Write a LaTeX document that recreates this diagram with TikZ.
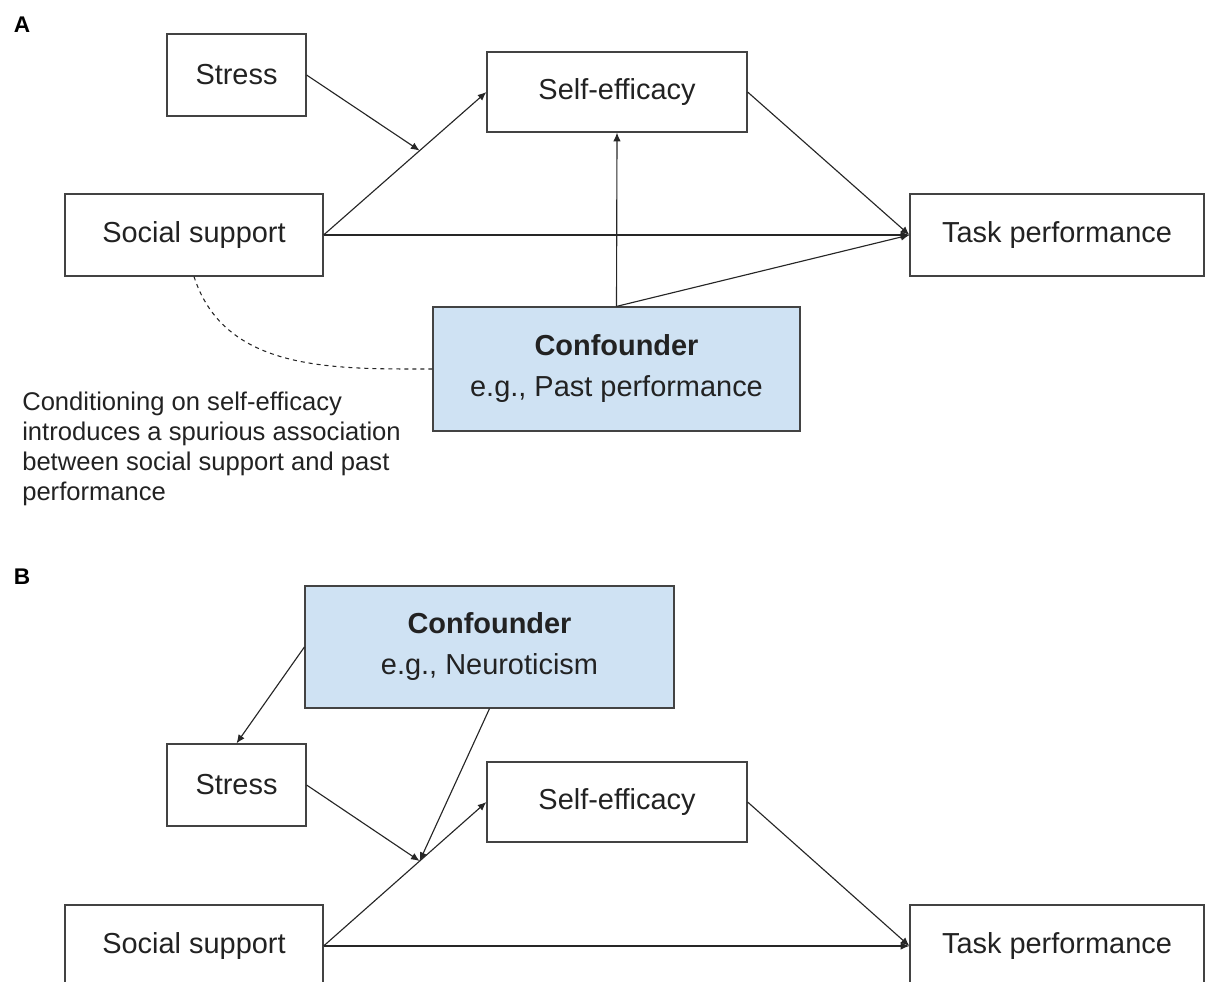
\documentclass[tikz,border=0pt]{standalone}
\usepackage{fontspec}
\setmainfont{Liberation Sans}
\usepackage{tikz}
\usetikzlibrary{arrows, arrows.meta, positioning}
\definecolor{boxline}{HTML}{434343}
\definecolor{cfblue}{HTML}{CFE2F3}
\definecolor{txt}{HTML}{222222}
\tikzstyle{var} = [rectangle, minimum height=61.5pt, inner sep=0pt, text centered, draw=boxline, line width=0.9pt, text=txt, font=\fontsize{21.7}{26}\selectfont]
\tikzstyle{confounder} = [rectangle, inner sep=0pt, align=center, draw=boxline, line width=0.9pt, fill=cfblue, text=txt, font=\fontsize{21.7}{30.75}\selectfont]
\tikzstyle{arrow} = [line width=0.85pt, draw=black!85, -{Latex[length=6.5pt, width=5.5pt]}]
\tikzstyle{panel} = [font=\bfseries\fontsize{17}{20}\selectfont, text=black]

\begin{document}
\begin{tikzpicture}[x=0.75pt, y=-0.75pt]
\useasboundingbox (0,0) rectangle (1209,981);
\clip (0,0) rectangle (1209,981);

% Panel A
\node (labA) [panel] at (22,25) {A};

\node (stA) [var, minimum width=104.25pt] at (236.5,75) {Stress};
\node (seA) [var, minimum width=195pt, minimum height=60pt] at (617,92) {Self-efficacy};
\node (ssA) [var, minimum width=193.5pt] at (194,235) {Social support};
\node (tpA) [var, minimum width=220.5pt] at (1057,235) {Task performance};
\node (cfA) [confounder, minimum width=275.25pt, minimum height=93pt] at (616.5,369) {\textbf{Confounder}\\e.g., Past performance};

\node (noteA) [anchor=north west, inner sep=0pt, align=left, text=txt, font=\fontsize{19.2}{22.5}\selectfont] at (22,392)
  {Conditioning on self-efficacy\\introduces a spurious association\\between social support and past\\performance};

% Arrows A
\draw [arrow] (ssA.east) -- coordinate[pos=0.59] (jA) (seA.west);
\draw [arrow] (stA.east) -- (jA);
\draw [arrow] (ssA.east) -- (tpA.west);
\draw [arrow] (seA.east) -- (tpA.west);
\draw [arrow] (cfA.north) -- (seA.south);
\draw [arrow] (cfA.north) -- (tpA.west);
\draw [line width=0.8pt, draw=black!85, dashed] (ssA.south) to[out=-72, in=180] (cfA.west);

% Panel B
\node (labB) [panel] at (22,577) {B};

\node (cfB) [confounder, minimum width=276.75pt, minimum height=91.5pt] at (489.5,647) {\textbf{Confounder}\\e.g., Neuroticism};
\node (stB) [var, minimum width=104.25pt] at (236.5,785) {Stress};
\node (seB) [var, minimum width=195pt, minimum height=60pt] at (617,802) {Self-efficacy};
\node (ssB) [var, minimum width=193.5pt] at (194,946) {Social support};
\node (tpB) [var, minimum width=220.5pt] at (1057,946) {Task performance};

% Arrows B
\draw [arrow] (ssB.east) -- coordinate[pos=0.59] (jB) (seB.west);
\draw [arrow] (stB.east) -- (jB);
\draw [arrow] (cfB.west) -- (stB.north);
\draw [arrow] (cfB.south) -- (jB);
\draw [arrow] (ssB.east) -- (tpB.west);
\draw [arrow] (seB.east) -- (tpB.west);

\end{tikzpicture}
\end{document}
